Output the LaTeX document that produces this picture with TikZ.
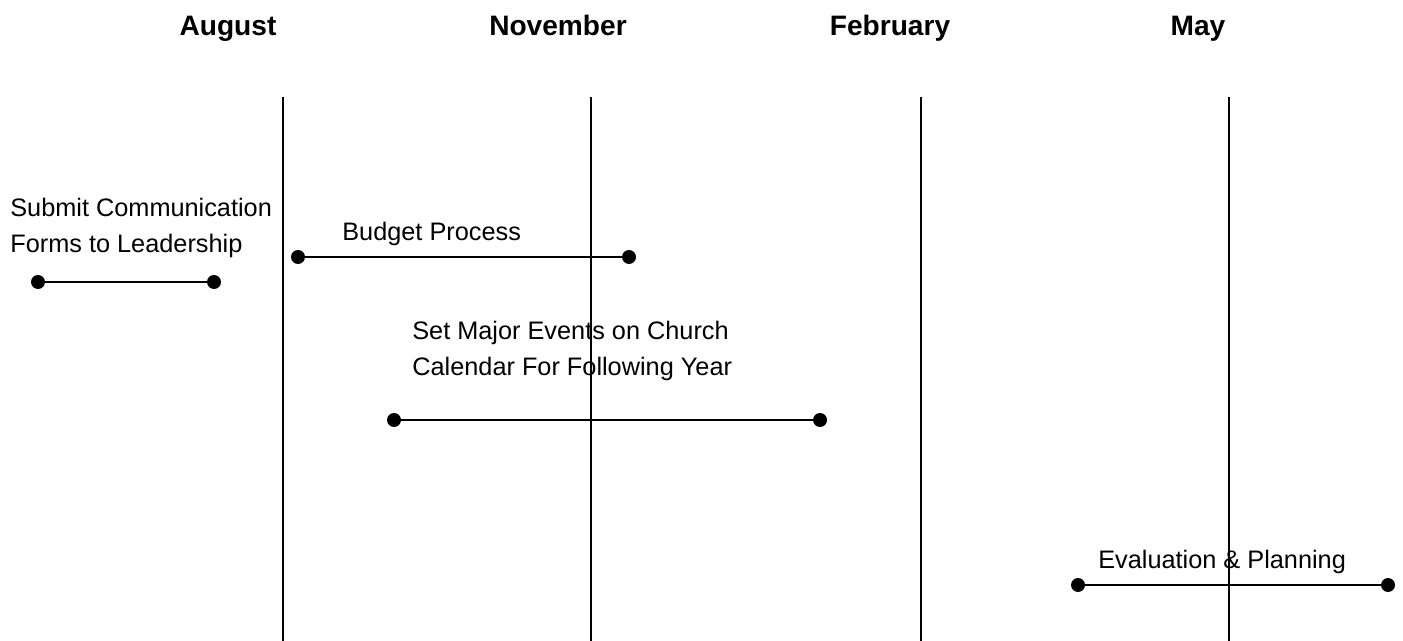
\documentclass[tikz,border=0pt]{standalone}
\usepackage{fontspec}
\setmainfont{Liberation Sans}
\usetikzlibrary{positioning}

\begin{document}
\begin{tikzpicture}[
    x=0.02cm, y=-0.02cm,
    % Styles for the timeline
    month/.style={font=\fontsize{16}{19}\selectfont\bfseries, inner sep=0pt, anchor=base},
    divider/.style={draw=black, line width=1.1pt},
    dot/.style={circle, fill=black, inner sep=0pt, minimum size=0.28cm},
    span/.style={draw=black, line width=1.1pt},
    task/.style={font=\fontsize{14.4}{20.5}\selectfont, inner sep=0pt, align=left, anchor=base west}
]
    \useasboundingbox (0,0) rectangle (1403,641);

    % 1. Month headings
    \node[month] (aug) at (228,36) {August};
    \node[month] (nov) at (558,36) {November};
    \node[month] (feb) at (890,36) {February};
    \node[month] (may) at (1198,36) {May};

    % 2. Quarter dividers
    \foreach \name/\x in {a/283, b/591, c/921, d/1229} {
        \coordinate (\name top) at (\x,97);
        \coordinate (\name bot) at (\x,641);
        \draw[divider] (\name top) -- (\name bot);
    }

    % 3. Tasks (base = last line)
    \node[task] (submit) at (10,253) {Submit Communication\\Forms to Leadership};
    \node[dot] (s1) at (38,282) {};
    \node[dot] (s2) at (214,282) {};
    \draw[span] (s1) -- (s2);

    \node[task] (budget) at (342,241) {Budget Process};
    \node[dot] (b1) at (298,257) {};
    \node[dot] (b2) at (629,257) {};
    \draw[span] (b1) -- (b2);

    \node[task] (events) at (412,376) {Set Major Events on Church\\Calendar For Following Year};
    \node[dot] (e1) at (394,420) {};
    \node[dot] (e2) at (820,420) {};
    \draw[span] (e1) -- (e2);

    \node[task] (eval) at (1098,568) {Evaluation \& Planning};
    \node[dot] (p1) at (1078,585) {};
    \node[dot] (p2) at (1388,585) {};
    \draw[span] (p1) -- (p2);

\end{tikzpicture}
\end{document}
